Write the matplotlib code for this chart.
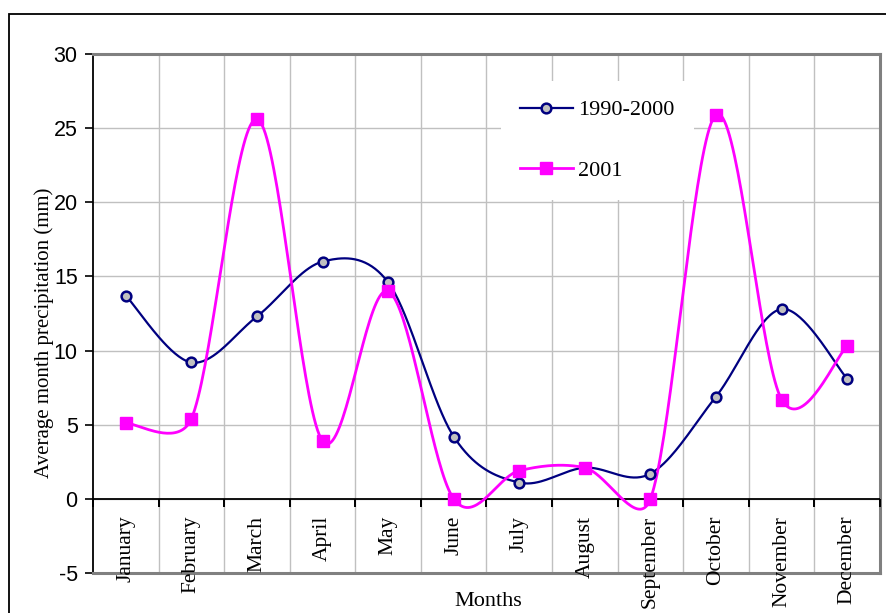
import numpy as np
import matplotlib
matplotlib.use("Agg")
import matplotlib.pyplot as plt
from matplotlib.patches import Rectangle
from matplotlib.lines import Line2D
import matplotlib.transforms as mtransforms

months = ["January", "February", "March", "April", "May", "June", "July",
          "August", "September", "October", "November", "December"]
series_1990_2000 = [13.7, 9.2, 12.3, 16.0, 14.6, 4.2, 1.1, 2.1, 1.7, 6.9, 12.8, 8.1]
series_2001 = [5.1, 5.4, 25.6, 3.9, 14.0, 0.0, 1.9, 2.1, 0.0, 25.9, 6.7, 10.3]
yticks = [-5, 0, 5, 10, 15, 20, 25, 30]

W, H = 887, 613
fig = plt.figure(figsize=(W / 100, H / 100), dpi=100)
ax = fig.add_axes([93 / W, 1 - 573 / H, (880 - 93) / W, (573 - 54) / H])
ax.set_xlim(0.5, len(months) + 0.5)
ax.set_ylim(-5, 30)


def smooth(xs, ys, n=40):
    """Excel-style smoothed line (clamped Catmull-Rom Bezier), computed in pixel space."""
    xs = np.asarray(xs, float)
    ys = np.asarray(ys, float)
    P = ax.transData.transform(np.column_stack([xs, ys]))
    Pe = np.vstack([P[0], P, P[-1]])
    out = []
    t = np.linspace(0, 1, n)[:, None]
    for i in range(len(P) - 1):
        p0, p1, p2, p3 = Pe[i], Pe[i + 1], Pe[i + 2], Pe[i + 3]
        d12 = np.hypot(*(p2 - p1))
        d02 = np.hypot(*(p2 - p0))
        d13 = np.hypot(*(p3 - p1))
        f1 = 1 / 6.0
        f2 = 1 / 6.0
        if d02 / 6.0 > d12 / 2.0 and d02 > 0:
            f1 = d12 / (2.0 * d02)
        if d13 / 6.0 > d12 / 2.0 and d13 > 0:
            f2 = d12 / (2.0 * d13)
        c1 = p1 + f1 * (p2 - p0)
        c2 = p2 - f2 * (p3 - p1)
        seg = ((1 - t) ** 3) * p1 + 3 * ((1 - t) ** 2) * t * c1 + 3 * (1 - t) * t ** 2 * c2 + t ** 3 * p2
        out.append(seg if i == 0 else seg[1:])
    s = ax.transData.inverted().transform(np.vstack(out))
    return s[:, 0], s[:, 1]


x = np.arange(1, len(months) + 1)
navy = "#000080"
mag = "#ff00ff"

sx, sy = smooth(x, series_1990_2000)
ax.plot(sx, sy, color=navy, lw=1.6, zorder=4)
ax.plot(x, series_1990_2000, ls="none", marker="o", ms=7, mfc="#c0c0c0",
        mec=navy, mew=1.8, zorder=5)
sx2, sy2 = smooth(x, series_2001)
ax.plot(sx2, sy2, color=mag, lw=2.0, zorder=4)
ax.plot(x, series_2001, ls="none", marker="s", ms=8, mfc=mag, mec=mag, zorder=5)

# grid
for yv in yticks[1:-1]:
    ax.axhline(yv, color="#c0c0c0", lw=1.0, zorder=1)
for b in np.arange(1.5, len(months) + 0.5, 1.0):
    ax.axvline(b, color="#c0c0c0", lw=1.0, zorder=1)

# spines
for s in ["top", "right", "bottom"]:
    ax.spines[s].set_color("#808080")
    ax.spines[s].set_linewidth(2.2)
ax.spines["left"].set_color("black")
ax.spines["left"].set_linewidth(1.3)

ax.set_yticks(yticks)
ax.set_yticklabels([str(v) for v in yticks], fontfamily="Liberation Sans", fontsize=15.5)
ax.tick_params(axis="y", direction="out", length=6, width=1.2, pad=5, color="black")
ax.set_xticks([])

# x axis at zero
ax.axhline(0, color="black", lw=1.3, zorder=3)
for b in np.arange(0.5, len(months) + 1.0, 1.0):
    ax.plot([b, b], [0, 0], marker=3, ms=6, mew=1.3, color="black", zorder=3, clip_on=False)

off = mtransforms.ScaledTranslation(0, -17 / 100, fig.dpi_scale_trans)
for xi, m in zip(x, months):
    ax.text(xi, 0, m, rotation=90, ha="center", va="top", fontfamily="Liberation Serif",
            fontsize=15.5, transform=ax.transData + off, zorder=6)

# legend
h1 = Line2D([], [], color=navy, lw=1.6, marker="o", ms=7, mfc="#c0c0c0", mec=navy, mew=1.8)
h2 = Line2D([], [], color=mag, lw=2.0, marker="s", ms=8, mfc=mag, mec=mag)
leg = ax.legend([h1, h2], ["1990-2000", "2001"], loc="upper left",
                bbox_to_anchor=(0.518, 0.948), frameon=True, fancybox=False,
                prop={"family": "Liberation Serif", "size": 16}, handlelength=2.4,
                handletextpad=0.25, labelspacing=1.8, borderpad=0.85, borderaxespad=0)
leg.get_frame().set_facecolor("white")
leg.get_frame().set_edgecolor("none")
leg.get_frame().set_alpha(1)
leg.set_zorder(3.5)

fig.text(44 / W, 1 - 333 / H, "Average month precipitation (mm)", rotation=90,
         ha="center", va="center", fontfamily="Liberation Serif", fontsize=15)
fig.text(488 / W, 1 - 601 / H, "Months", ha="center", va="center",
         fontfamily="Liberation Serif", fontsize=16)

# outer frame
fig.patches.append(Rectangle((9 / W, -0.1), 1.2, 1 - 14 / H + 0.1, transform=fig.transFigure,
                             fill=False, ec="black", lw=1.3))

fig.savefig("out.png", dpi=100)
